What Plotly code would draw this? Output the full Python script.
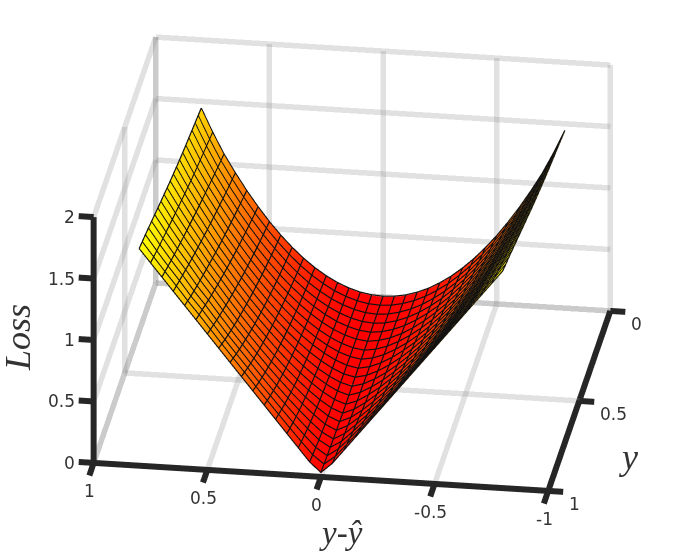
import plotly.graph_objects as go

# half of the error axis (the surface is symmetric about 0)
err_half = [0.05, 0.10, 0.15, 0.20, 0.25, 0.30, 0.35, 0.40, 0.45, 0.50, 0.55, 0.60, 0.65, 0.70, 0.75, 0.80]
y_vals = [0.0, 0.05, 0.1, 0.15, 0.2, 0.25, 0.3, 0.35, 0.4, 0.45, 0.5, 0.55, 0.6, 0.65, 0.7, 0.75, 0.8, 0.85, 0.9, 0.95, 1.0]

loss_y000 = [0.006, 0.022, 0.050, 0.088, 0.138, 0.198, 0.270, 0.352, 0.446, 0.550, 0.666, 0.792, 0.930, 1.078, 1.250, 1.440]
loss_y005 = [0.006, 0.025, 0.055, 0.095, 0.148, 0.210, 0.284, 0.369, 0.464, 0.570, 0.686, 0.812, 0.950, 1.097, 1.266, 1.452]
loss_y010 = [0.007, 0.028, 0.060, 0.103, 0.158, 0.223, 0.299, 0.386, 0.483, 0.590, 0.707, 0.833, 0.970, 1.117, 1.283, 1.465]
loss_y015 = [0.008, 0.031, 0.066, 0.112, 0.169, 0.237, 0.316, 0.404, 0.503, 0.611, 0.729, 0.855, 0.991, 1.137, 1.299, 1.477]
loss_y020 = [0.010, 0.035, 0.072, 0.122, 0.182, 0.252, 0.333, 0.423, 0.523, 0.632, 0.751, 0.877, 1.013, 1.157, 1.315, 1.490]
loss_y025 = [0.012, 0.039, 0.079, 0.132, 0.195, 0.268, 0.351, 0.443, 0.544, 0.655, 0.774, 0.899, 1.035, 1.178, 1.331, 1.502]
loss_y030 = [0.014, 0.044, 0.088, 0.143, 0.209, 0.284, 0.370, 0.463, 0.566, 0.678, 0.797, 0.922, 1.058, 1.199, 1.348, 1.515]
loss_y035 = [0.016, 0.049, 0.097, 0.155, 0.224, 0.302, 0.390, 0.485, 0.589, 0.702, 0.822, 0.946, 1.081, 1.220, 1.367, 1.530]
loss_y040 = [0.018, 0.055, 0.106, 0.168, 0.240, 0.321, 0.411, 0.508, 0.613, 0.726, 0.847, 0.970, 1.104, 1.242, 1.387, 1.545]
loss_y045 = [0.021, 0.062, 0.117, 0.182, 0.257, 0.341, 0.433, 0.532, 0.638, 0.752, 0.873, 0.995, 1.128, 1.264, 1.407, 1.561]
loss_y050 = [0.025, 0.070, 0.128, 0.197, 0.275, 0.362, 0.456, 0.557, 0.664, 0.779, 0.899, 1.020, 1.153, 1.287, 1.428, 1.577]
loss_y055 = [0.029, 0.079, 0.141, 0.214, 0.295, 0.385, 0.481, 0.583, 0.691, 0.807, 0.927, 1.047, 1.178, 1.310, 1.448, 1.595]
loss_y060 = [0.033, 0.088, 0.155, 0.232, 0.316, 0.408, 0.507, 0.610, 0.719, 0.835, 0.955, 1.074, 1.204, 1.333, 1.469, 1.614]
loss_y065 = [0.038, 0.098, 0.170, 0.251, 0.339, 0.434, 0.535, 0.639, 0.749, 0.865, 0.984, 1.102, 1.230, 1.357, 1.490, 1.632]
loss_y070 = [0.045, 0.110, 0.187, 0.272, 0.363, 0.460, 0.563, 0.669, 0.779, 0.895, 1.014, 1.130, 1.257, 1.381, 1.512, 1.651]
loss_y075 = [0.052, 0.124, 0.206, 0.295, 0.390, 0.489, 0.594, 0.701, 0.811, 0.927, 1.045, 1.159, 1.284, 1.406, 1.534, 1.670]
loss_y080 = [0.060, 0.139, 0.226, 0.320, 0.418, 0.519, 0.626, 0.733, 0.843, 0.959, 1.077, 1.188, 1.312, 1.431, 1.556, 1.689]
loss_y085 = [0.070, 0.156, 0.249, 0.347, 0.448, 0.551, 0.660, 0.768, 0.878, 0.993, 1.110, 1.219, 1.341, 1.457, 1.578, 1.708]
loss_y090 = [0.082, 0.175, 0.273, 0.376, 0.480, 0.585, 0.695, 0.803, 0.913, 1.028, 1.144, 1.250, 1.370, 1.483, 1.601, 1.727]
loss_y095 = [0.095, 0.196, 0.300, 0.407, 0.514, 0.622, 0.732, 0.841, 0.951, 1.064, 1.177, 1.285, 1.400, 1.511, 1.625, 1.743]
loss_y100 = [0.110, 0.220, 0.330, 0.440, 0.550, 0.660, 0.770, 0.880, 0.990, 1.100, 1.210, 1.320, 1.430, 1.540, 1.650, 1.760]
half_rows = [loss_y000, loss_y005, loss_y010, loss_y015, loss_y020, loss_y025, loss_y030, loss_y035, loss_y040,
             loss_y045, loss_y050, loss_y055, loss_y060, loss_y065, loss_y070, loss_y075, loss_y080, loss_y085,
             loss_y090, loss_y095, loss_y100]
loss_at_zero = [0.0, 0.0, 0.0, 0.0, 0.0, 0.0, 0.0, 0.0, 0.0, 0.0, 0.0, 0.0, 0.0, 0.0,
                0.005, 0.007, 0.01, 0.015, 0.02, 0.025, 0.03]

x_ticks = [-1, -0.5, 0, 0.5, 1]
x_text = ["-1", "-0.5", "0", "0.5", "1"]
y_ticks = [0, 0.5, 1]
y_text = ["0", "0.5", "1"]
z_ticks = [0, 0.5, 1, 1.5, 2]
z_text = ["0", "0.5", "1", "1.5", "2"]

err = [-v for v in reversed(err_half)] + [0.0] + err_half
Z = [list(reversed(r)) + [c] + r for r, c in zip(half_rows, loss_at_zero)]

surface = go.Surface(
    x=err, y=y_vals, z=Z,
    colorscale=[[0, "#ff0000"], [1, "#ffff00"]], cmin=0, cmax=1.76,
    showscale=False, hoverinfo="skip",
    lighting=dict(ambient=1, diffuse=0, specular=0, roughness=1, fresnel=0),
)

# Mesh lines of the surface: every row and column of the table, a hair above it
lift = 0.006
mx, my, mz = [], [], []
for j, yv in enumerate(y_vals):
    mx += err + [None]
    my += [yv] * len(err) + [None]
    mz += [v + lift for v in Z[j]] + [None]
for i, xv in enumerate(err):
    mx += [xv] * len(y_vals) + [None]
    my += y_vals + [None]
    mz += [row[i] + lift for row in Z] + [None]
mesh_lines = go.Scatter3d(x=mx, y=my, z=mz, mode="lines", hoverinfo="skip", showlegend=False,
                          line=dict(color="#111111", width=2.4))


# Segments of the box built from the tick lists
def segments(pairs):
    xs, ys, zs = [], [], []
    for a, b in pairs:
        xs += [a[0], b[0], None]
        ys += [a[1], b[1], None]
        zs += [a[2], b[2], None]
    return xs, ys, zs


x_lo, x_hi = x_ticks[0], x_ticks[-1]
y_lo, y_hi = y_ticks[0], y_ticks[-1]
z_lo, z_hi = z_ticks[0], z_ticks[-1]

grid_pairs = []
for xv in x_ticks:
    grid_pairs.append(((xv, y_lo, z_lo), (xv, y_hi, z_lo)))
    grid_pairs.append(((xv, y_lo, z_lo), (xv, y_lo, z_hi)))
for yv in y_ticks:
    grid_pairs.append(((x_lo, yv, z_lo), (x_hi, yv, z_lo)))
    grid_pairs.append(((x_hi, yv, z_lo), (x_hi, yv, z_hi)))
for zv in z_ticks:
    grid_pairs.append(((x_lo, y_lo, zv), (x_hi, y_lo, zv)))
    grid_pairs.append(((x_hi, y_lo, zv), (x_hi, y_hi, zv)))
gx, gy, gz = segments(grid_pairs)
grid = go.Scatter3d(x=gx, y=gy, z=gz, mode="lines", hoverinfo="skip", showlegend=False,
                    line=dict(color="#8c8c8c", width=11), opacity=0.26)

tick_dx, tick_dy = 0.066, 0.07
axis_pairs = [
    ((x_lo, y_hi, z_lo), (x_hi, y_hi, z_lo)),
    ((x_lo, y_lo, z_lo), (x_lo, y_hi, z_lo)),
    ((x_hi, y_hi, z_lo), (x_hi, y_hi, z_hi)),
]
for xv in x_ticks:
    axis_pairs.append(((xv, y_hi, z_lo), (xv, y_hi + tick_dy, z_lo)))
for yv in y_ticks:
    axis_pairs.append(((x_lo, yv, z_lo), (x_lo - tick_dx, yv, z_lo)))
for zv in z_ticks:
    axis_pairs.append(((x_hi, y_hi, zv), (x_hi + tick_dx, y_hi, zv)))
ax, ay, az = segments(axis_pairs)
axes_lines = go.Scatter3d(x=ax, y=ay, z=az, mode="lines", hoverinfo="skip", showlegend=False,
                          line=dict(color="#262626", width=12))


def axis(rng):
    return dict(
        range=rng, title=dict(text=""), showticklabels=False, ticks="",
        showgrid=False, showline=False,
        showbackground=False, zeroline=False, showspikes=False, showaxeslabels=False,
    )


tick_font = dict(family="DejaVu Sans", size=17, color="#333333")
scene_notes = []
for v, t in zip(x_ticks, x_text):
    scene_notes.append(dict(x=v, y=y_hi, z=z_lo, text=t, showarrow=False, xanchor="center", yanchor="middle",
                            xshift=-4, yshift=-28, font=tick_font))
for v, t in zip(y_ticks, y_text):
    scene_notes.append(dict(x=x_lo, y=v, z=z_lo, text=t, showarrow=False, xanchor="left", yanchor="middle",
                            xshift=19, yshift=-13, font=tick_font))
for v, t in zip(z_ticks, z_text):
    scene_notes.append(dict(x=x_hi, y=y_hi, z=v, text=t, showarrow=False, xanchor="right", yanchor="middle",
                            xshift=-17, yshift=0, font=tick_font))

title_font = dict(family="Liberation Serif", size=36, color="#333333")
fig = go.Figure([grid, surface, mesh_lines, axes_lines])
R = 1.21
fig.update_layout(
    width=676, height=556, margin=dict(l=0, r=0, t=0, b=0),
    paper_bgcolor="white", showlegend=False,
    scene=dict(
        xaxis=axis([-1.08, 1.08]),
        yaxis=axis([-0.08, 1.08]),
        zaxis=axis([-0.02, 2.02]),
        aspectmode="manual", aspectratio=dict(x=1.879, y=1.891, z=1.048),
        camera=dict(
            eye=dict(x=-0.1308 * R, y=0.8968 * R, z=0.4226 * R),
            center=dict(x=0, y=0, z=0), up=dict(x=0, y=0, z=1),
            projection=dict(type="orthographic"),
        ),
        domain=dict(x=[28 / 676, 1], y=[28 / 556, 1]),
        annotations=scene_notes,
    ),
    annotations=[
        dict(text="<i>Loss</i>", x=18 / 676, y=1 - 338 / 556, xref="paper", yref="paper", showarrow=False,
             xanchor="center", yanchor="middle", textangle=-90, font=title_font),
        dict(text="<i>y-ŷ</i>", x=341 / 676, y=1 - 533 / 556, xref="paper", yref="paper", showarrow=False,
             xanchor="center", yanchor="middle", font=dict(family="Liberation Serif", size=33, color="#333333")),
        dict(text="<i>y</i>", x=628 / 676, y=1 - 457 / 556, xref="paper", yref="paper", showarrow=False,
             xanchor="center", yanchor="middle", font=title_font),
    ],
)
fig.write_html("out.html", config=dict(displayModeBar=False),
               post_script="document.body.style.margin='0';")
